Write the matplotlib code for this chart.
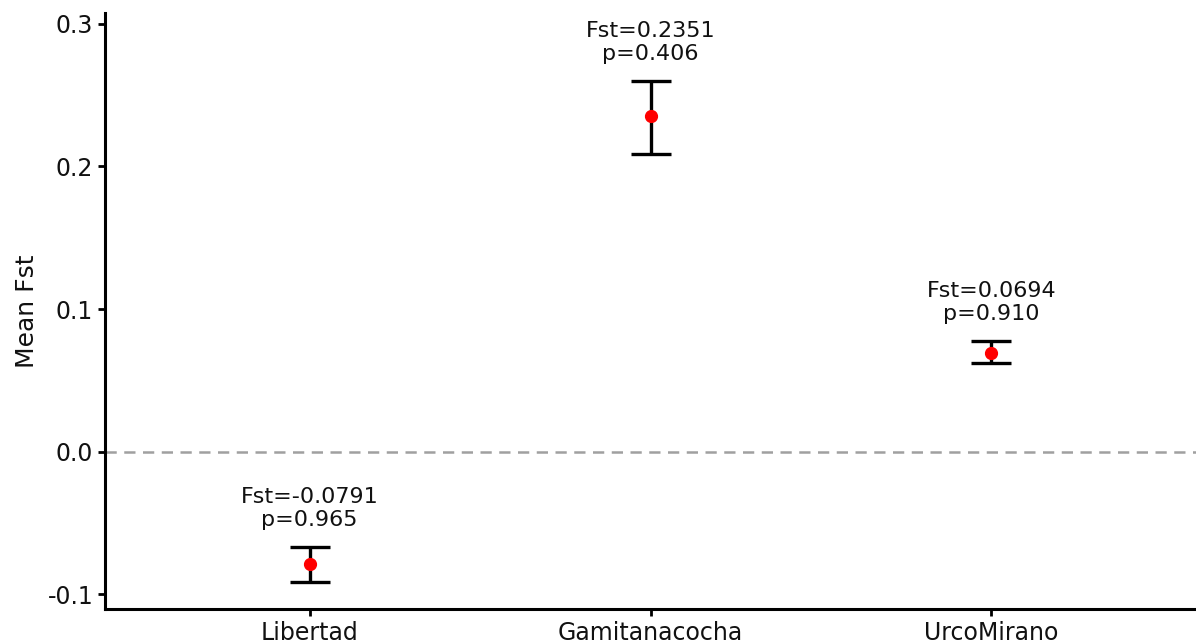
import matplotlib
matplotlib.use("Agg")
import matplotlib.pyplot as plt

populations = ["Libertad", "Gamitanacocha", "UrcoMirano"]
mean_fst = [-0.0791, 0.2351, 0.0694]
lower = [-0.0915, 0.2091, 0.0620]
upper = [-0.0669, 0.2601, 0.0775]
p_values = ["0.965", "0.406", "0.910"]
fst_labels = ["-0.0791", "0.2351", "0.0694"]

plt.rcParams['font.family'] = ['DejaVu Sans']

fig = plt.figure(figsize=(11.96, 6.44), dpi=100)
ax = fig.add_axes([105/1196, 35/644, (1196-105)/1196, (609-13)/644])

x = list(range(len(populations)))
yerr = [[m - l for m, l in zip(mean_fst, lower)], [u - m for m, u in zip(mean_fst, upper)]]

ax.axhline(0, color='#a0a0a0', linestyle=(0, (4.5, 3)), linewidth=1.8, zorder=1)
ax.errorbar(x, mean_fst, yerr=yerr, fmt='none', ecolor='black', elinewidth=2.4,
            capsize=14.5, capthick=2.4, zorder=2)
ax.plot(x, mean_fst, 'o', color='red', markersize=8.5, zorder=3)

for xi, u, f, p in zip(x, upper, fst_labels, p_values):
    ax.text(xi, u + 0.012, f"Fst={f}\np={p}", ha='center', va='bottom',
            fontsize=16, linespacing=1.2, color='#111111')

ax.set_xlim(-0.6, 2.6)
ax.set_ylim(-0.1105, 0.3077)
ax.set_xticks(x)
ax.set_xticklabels(populations)
ax.set_yticks([-0.1, 0.0, 0.1, 0.2, 0.3])
ax.set_yticklabels(["-0.1", "0.0", "0.1", "0.2", "0.3"])
ax.tick_params(axis='both', labelsize=17, width=2, length=5, color='black', labelcolor='#111111')
ax.tick_params(axis='x', pad=4)
ax.set_ylabel("Mean Fst", fontsize=18, color='#111111', labelpad=6)

for s in ['top', 'right']:
    ax.spines[s].set_visible(False)
for s in ['left', 'bottom']:
    ax.spines[s].set_linewidth(2.2)

fig.savefig("out.png", dpi=100)
